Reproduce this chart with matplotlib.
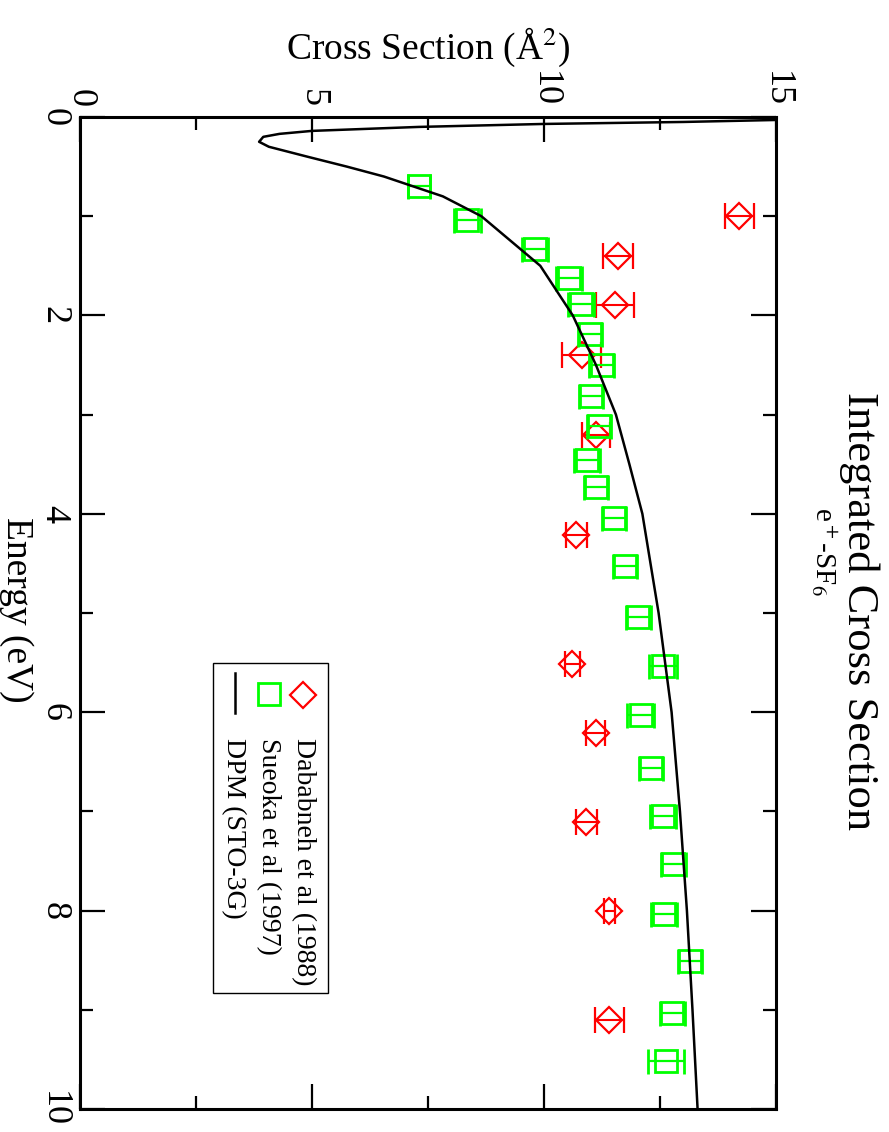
import matplotlib
matplotlib.use('Agg')
import matplotlib.pyplot as plt
from matplotlib.patches import Rectangle
from matplotlib.lines import Line2D

plt.rcParams['font.family'] = ['Liberation Serif', 'DejaVu Serif']
plt.rcParams['mathtext.fontset'] = 'stix'

# Dababneh et al (1988): energy (eV), cross section (A^2), error
dab_E = [1.00, 1.40, 1.90, 2.40, 3.21, 4.21, 5.51, 6.21, 7.11, 8.00, 9.10]
dab_cs = [14.21, 11.60, 11.52, 10.81, 11.12, 10.70, 10.61, 11.11, 10.91, 11.41, 11.41]
dab_err = [0.31, 0.32, 0.41, 0.42, 0.30, 0.22, 0.16, 0.20, 0.23, 0.12, 0.31]

# Sueoka et al (1997)
sue_E = [0.70, 1.04, 1.33, 1.62, 1.89, 2.19, 2.50, 2.81, 3.11, 3.46, 3.73, 4.04,
         4.53, 5.04, 5.53, 6.03, 6.56, 7.05, 7.53, 8.03, 8.51, 9.03, 9.52]
sue_cs = [7.31, 8.35, 9.81, 10.53, 10.80, 10.99, 11.24, 11.01, 11.19, 10.93, 11.13, 11.51,
          11.74, 12.03, 12.56, 12.08, 12.30, 12.57, 12.79, 12.59, 13.15, 12.76, 12.63]
sue_err = [0.24, 0.30, 0.28, 0.28, 0.28, 0.26, 0.26, 0.26, 0.26, 0.28, 0.26, 0.26,
           0.26, 0.27, 0.30, 0.30, 0.26, 0.28, 0.27, 0.28, 0.26, 0.27, 0.38]

# DPM (STO-3G) curve
dpm_E = [0.02, 0.05, 0.07, 0.10, 0.14, 0.17, 0.20, 0.25, 0.30, 0.40, 0.50, 0.60, 0.80,
         1.0, 1.5, 2.0, 2.5, 3.0, 3.5, 4.0, 5.0, 6.0, 7.0, 8.0, 9.0, 10.0]
dpm_cs = [16.0, 13.0, 10.0, 7.3, 5.0, 4.3, 3.95, 3.86, 4.07, 4.9, 5.75, 6.55, 7.82,
          8.65, 9.92, 10.62, 11.12, 11.55, 11.84, 12.12, 12.47, 12.75, 12.93, 13.08, 13.2, 13.31]

W, H = 889, 1132
fig = plt.figure(figsize=(W / 100, H / 100), dpi=100)
# axes frame in pixels: x 80..776, y 117..1109
ax = fig.add_axes([80 / W, 1 - 1109 / H, 696 / W, 992 / H])

RED = '#ff0000'
GREEN = '#00ff00'

ax.errorbar(dab_cs, dab_E, xerr=dab_err, fmt='D', ms=13.7, mfc='none', mec=RED, mew=1.6,
            ecolor=RED, elinewidth=1.5, capsize=9.5, capthick=1.6, zorder=3)
ax.errorbar(sue_cs, sue_E, xerr=sue_err, fmt='s', ms=16.5, mfc='none', mec=GREEN, mew=2.0,
            ecolor=GREEN, elinewidth=1.6, capsize=9, capthick=2.0, zorder=4)
ax.plot(dpm_cs, dpm_E, color='black', lw=1.8, zorder=5)

ax.set_xlim(0, 15)
ax.set_ylim(10, 0)
ax.set_xticks([0, 5, 10, 15])
ax.set_xticks([2.5, 7.5, 12.5], minor=True)
ax.set_yticks([0, 2, 4, 6, 8, 10])
ax.set_yticks([1, 3, 5, 7, 9], minor=True)

ax.tick_params(which='both', direction='in', top=True, bottom=True, left=True, right=True,
               labeltop=True, labelbottom=False, labelleft=True, labelright=False)
ax.tick_params(which='major', length=18, width=1.6, pad=7, labelsize=26)
ax.tick_params(which='minor', length=9.5, width=1.6)
for lab in ax.get_xticklabels():
    lab.set_rotation(-90)
for lab in ax.get_yticklabels():
    lab.set_rotation(-90)
    lab.set_va('center')
for sp in ax.spines.values():
    sp.set_linewidth(2.2)

# axis labels and titles (figure is drawn turned by 90 degrees)
fig.text(428 / W, 1 - 47 / H, r'Cross Section (Å$^2$)', ha='center', va='center', fontsize=27)
fig.text(7 / W, 1 - 610 / H, 'Energy (eV)', rotation=-90, rotation_mode='anchor',
         ha='center', va='baseline', fontsize=27)
fig.text(848 / W, 1 - 611 / H, 'Integrated Cross Section', rotation=-90, rotation_mode='anchor',
         ha='center', va='baseline', fontsize=32)
fig.text(815 / W, 1 - 551 / H, r'e$^+$-SF$_6$', rotation=-90, rotation_mode='anchor',
         ha='center', va='baseline', fontsize=21)

# legend, built by hand so the text can be turned
def fx(px):
    return (px - 80) / 696.0

def fy(py):
    return 1 - (py - 117) / 992.0

ax.add_patch(Rectangle((fx(213), fy(993)), fx(328) - fx(213), fy(663) - fy(993),
                       transform=ax.transAxes, fill=False, lw=1.0, ec='black', zorder=6))
ax.add_line(Line2D([fx(303)], [fy(695)], transform=ax.transAxes, marker='D', ms=13.7,
                   mfc='none', mec=RED, mew=1.6, ls='none', zorder=7))
ax.add_line(Line2D([fx(269)], [fy(694)], transform=ax.transAxes, marker='s', ms=16.5,
                   mfc='none', mec=GREEN, mew=2.0, ls='none', zorder=7))
ax.add_line(Line2D([fx(235), fx(235)], [fy(673), fy(713)], transform=ax.transAxes,
                   color='black', lw=1.8, zorder=7))
legend_labels = ['Dababneh et al (1988)', 'Sueoka et al (1997)', 'DPM (STO-3G)']
for px, txt in zip([297, 262, 227], legend_labels):
    ax.text(fx(px), fy(738), txt, transform=ax.transAxes, rotation=-90, rotation_mode='anchor',
            ha='left', va='baseline', fontsize=20, zorder=7)

fig.savefig('out.png', dpi=100)
